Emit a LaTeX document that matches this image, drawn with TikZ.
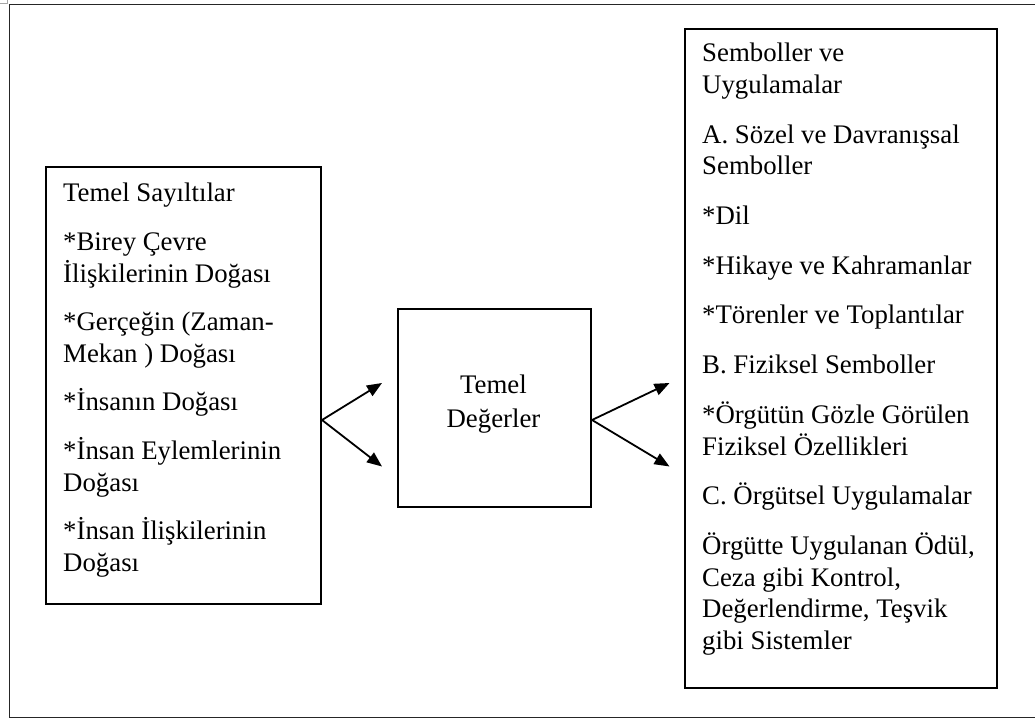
\documentclass[tikz,border=0pt]{standalone}
\usepackage{fontspec}
\setmainfont{Liberation Serif}
\usetikzlibrary{arrows.meta,calc}
\begin{document}
\begin{tikzpicture}[x=1pt,y=-1pt,
  frameline/.style={draw=black!85,line width=1.4pt},
  panel/.style={draw=black,line width=2pt,inner sep=0pt,anchor=north west},
  body/.style={inner sep=0pt,align=left,anchor=base west,
    font=\fontsize{26.8}{31.7}\selectfont},
  flow/.style={line width=1.8pt,-{Triangle[length=15pt,width=12pt]}}
]
\useasboundingbox (0,0) rectangle (1035,722);

% outer page frame, open on the right
\draw[frameline] (1035,4.5) -- (9.5,4.5) -- (9.5,717.5) -- (1035,717.5);
\draw[black!35,line width=0.8pt] (0,3.5) -- (7.5,3.5) -- (7.5,0);

% the three boxes
\node[panel,minimum width=275pt,minimum height=437pt] (sayiltilar) at (45,166) {};
\node[panel,minimum width=193pt,minimum height=198pt] (degerler) at (397,308) {};
\node[panel,minimum width=312pt,minimum height=659pt] (semboller) at (684,28) {};

% box texts (a multi-line node sits on the baseline of its last line)
\node[body] (sayiltilar-text) at (63,571.5) {%
Temel Sayıltılar\\[16.9pt]
*Birey Çevre\\
İlişkilerinin Doğası\\[16.9pt]
*Gerçeğin (Zaman-\\
Mekan ) Doğası\\[16.9pt]
*İnsanın Doğası\\[16.9pt]
*İnsan Eylemlerinin\\
Doğası\\[16.9pt]
*İnsan İlişkilerinin\\
Doğası};

\node[body,align=center,anchor=base,font=\fontsize{26.8}{34}\selectfont]
  (degerler-text) at (493.5,427) {Temel\\Değerler};

\node[body] (semboller-text) at (702,649.5) {%
Semboller ve\\
Uygulamalar\\[18pt]
A. Sözel ve Davranışsal\\
Semboller\\[18pt]
*Dil\\[18pt]
*Hikaye ve Kahramanlar\\[18pt]
*Törenler ve Toplantılar\\[18pt]
B. Fiziksel Semboller\\[18pt]
*Örgütün Gözle Görülen\\
Fiziksel Özellikleri\\[18pt]
C. Örgütsel Uygulamalar\\[18pt]
Örgütte Uygulanan Ödül,\\
Ceza gibi Kontrol,\\
Değerlendirme, Teşvik\\
gibi Sistemler};

% forks between the boxes
\coordinate (lfork) at (sayiltilar.east |- 0,420);
\coordinate (lup) at (382,383);
\coordinate (ldown) at (382,466.5);
\coordinate (rfork) at (degerler.east |- 0,420);
\coordinate (rup) at (669.5,383);
\coordinate (rdown) at (669.5,466.5);
\draw[flow] (lfork) -- (lup);
\draw[flow] (lfork) -- (ldown);
\draw[flow] (rfork) -- (rup);
\draw[flow] (rfork) -- (rdown);
\end{tikzpicture}
\end{document}
